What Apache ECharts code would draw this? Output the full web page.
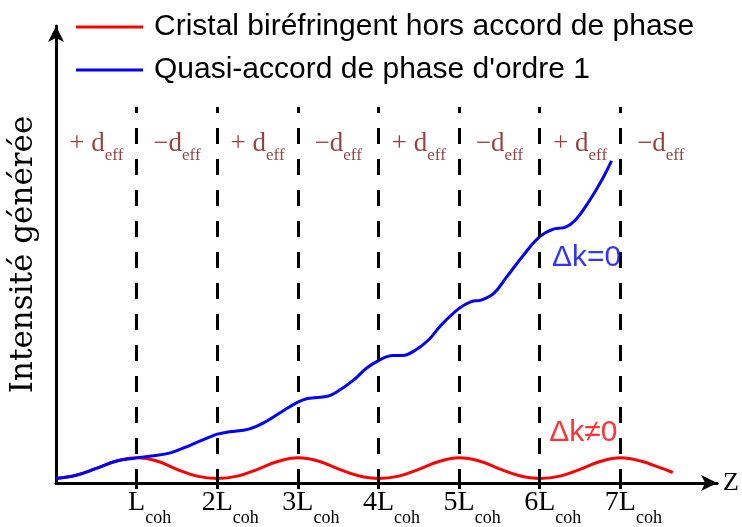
<!DOCTYPE html>
<html>
<head>
<meta charset="utf-8">
<script src="https://cdn.jsdelivr.net/npm/echarts@6.0.0/dist/echarts.min.js"></script>
<style>
  html,body{margin:0;padding:0;background:#fff;}
  #chart{width:742px;height:527px;}
</style>
</head>
<body>
<div id="chart"></div>
<script>
// positions en unites de L_coh, intensite en unites arbitraires
const zTicks = [1, 2, 3, 4, 5, 6, 7];
const tickLabels = ['L', '2L', '3L', '4L', '5L', '6L', '7L'];

// cristal birefringent hors accord de phase (dk != 0)
const redPts = [
  [0, 0.10], [0.25, 0.17], [0.5, 0.32], [0.75, 0.48], [1, 0.55],
  [1.25, 0.48], [1.5, 0.30], [1.75, 0.15], [2, 0.10],
  [2.25, 0.15], [2.5, 0.30], [2.75, 0.47], [3, 0.55],
  [3.25, 0.48], [3.5, 0.31], [3.75, 0.16], [4, 0.10],
  [4.25, 0.15], [4.5, 0.30], [4.75, 0.47], [5, 0.55],
  [5.25, 0.48], [5.5, 0.31], [5.75, 0.16], [6, 0.10],
  [6.25, 0.15], [6.5, 0.30], [6.75, 0.47], [7, 0.55],
  [7.25, 0.48], [7.5, 0.33], [7.65, 0.23]
];

// quasi-accord de phase d'ordre 1 (dk = 0)
const bluePts = [
  [0, 0.10], [0.25, 0.17], [0.5, 0.32], [0.75, 0.48], [1, 0.55],
  [1.18, 0.59], [1.42, 0.66], [1.67, 0.83], [1.91, 1.01], [2, 1.07],
  [2.15, 1.12], [2.39, 1.18], [2.60, 1.34], [2.80, 1.56], [3, 1.77],
  [3.12, 1.85], [3.37, 1.90], [3.49, 2.00], [3.69, 2.25], [3.85, 2.51], [4, 2.68],
  [4.18, 2.79], [4.30, 2.79], [4.46, 2.91], [4.62, 3.13], [4.78, 3.46], [5, 3.82],
  [5.15, 3.97], [5.27, 4.00], [5.43, 4.15], [5.59, 4.51], [5.80, 4.99], [6, 5.39],
  [6.16, 5.55], [6.32, 5.60], [6.44, 5.75], [6.61, 6.16], [6.77, 6.63], [6.89, 7.05]
];

// signe du coefficient non lineaire dans chaque domaine
const segCenters = [0.5, 1.5, 2.5, 3.5, 4.5, 5.5, 6.5, 7.5];
const segSigns = ['+ d', '\u2212d', '+ d', '\u2212d', '+ d', '\u2212d', '+ d', '\u2212d'];

const serif = 'Liberation Serif';
const sans = 'Liberation Sans';
const dRed = '#7e0f0f';

const chart = echarts.init(document.getElementById('chart'));

chart.setOption({
  animation: false,
  backgroundColor: '#fff',
  grid: { left: 53, right: 15, top: 26, bottom: 44 },
  legend: {
    data: ['Cristal biréfringent hors accord de phase', 'Quasi-accord de phase d\'ordre 1'],
    orient: 'vertical',
    left: 71,
    top: 6,
    icon: 'rect',
    itemWidth: 67,
    itemHeight: 3,
    itemGap: 11,
    textStyle: { fontFamily: sans, fontSize: 30, color: '#000', lineHeight: 32, padding: [0, 0, 0, 6] }
  },
  xAxis: {
    type: 'value',
    min: 0,
    max: 8.2,
    interval: 1,
    name: 'Z',
    nameLocation: 'end',
    nameGap: 6,
    nameTextStyle: { fontFamily: serif, fontSize: 26, color: '#000' },
    splitLine: { show: false },
    axisLine: { lineStyle: { color: '#000', width: 3 }, symbol: ['none', 'arrow'], symbolSize: [12, 16] },
    axisTick: { show: true, customValues: zTicks, length: 6, lineStyle: { color: '#000', width: 3 } },
    axisLabel: {
      customValues: zTicks,
      margin: 6,
      padding: [0, 0, 0, 26],
      formatter: v => '{m|' + tickLabels[zTicks.indexOf(v)] + '}{s|coh}',
      rich: {
        m: { fontFamily: serif, fontSize: 28, color: '#000', lineHeight: 28, verticalAlign: 'top' },
        s: { fontFamily: serif, fontSize: 18, color: '#000', lineHeight: 18, padding: [20, 0, 0, 0], verticalAlign: 'top' }
      }
    }
  },
  yAxis: {
    type: 'value',
    min: 0,
    max: 10,
    name: 'Intensité générée',
    nameLocation: 'middle',
    nameRotate: 90,
    nameGap: 17,
    nameTextStyle: { fontFamily: 'DejaVu Serif', fontSize: 31, color: '#000' },
    splitLine: { show: false },
    axisTick: { show: false },
    axisLabel: { show: false },
    axisLine: { lineStyle: { color: '#000', width: 3 }, symbol: ['none', 'arrow'], symbolSize: [12, 16] }
  },
  series: [
    {
      name: 'Cristal biréfringent hors accord de phase',
      type: 'line',
      data: redPts,
      smooth: 0.4,
      showSymbol: false,
      color: '#ff0000',
      lineStyle: { width: 3, color: '#ff0000' }
    },
    {
      name: 'Quasi-accord de phase d\'ordre 1',
      type: 'line',
      data: bluePts,
      smooth: 0.4,
      showSymbol: false,
      color: '#0000ff',
      lineStyle: { width: 3, color: '#0000ff' }
    },
    {
      // limites des domaines
      name: 'domaines',
      type: 'line',
      data: [],
      z: 5,
      markLine: {
        silent: true,
        symbol: 'none',
        label: { show: false },
        lineStyle: { color: '#000', width: 3, type: [16, 15], dashOffset: 10 },
        data: zTicks.map(v => [{ coord: [v, 8.23] }, { coord: [v, 0] }])
      }
    },
    {
      // signes +d / -d
      name: 'signes',
      type: 'scatter',
      symbolSize: 0,
      data: segCenters.map((c, i) => ({ value: [c, 7.42], sign: segSigns[i] })),
      label: {
        show: true,
        position: 'inside',
        formatter: p => '{m|' + p.data.sign + '}{s|eff}',
        rich: {
          m: { fontFamily: serif, fontSize: 27, color: dRed, lineHeight: 27, verticalAlign: 'top' },
          s: { fontFamily: serif, fontSize: 17, color: dRed, lineHeight: 17, padding: [17, 0, 0, 0], verticalAlign: 'top' }
        }
      }
    },
    {
      name: 'notes',
      type: 'scatter',
      symbolSize: 0,
      data: [
        { value: [6.58, 4.92], label: { formatter: '\u0394k=0', color: '#0000ff' } },
        { value: [6.54, 1.09], label: { formatter: '\u0394k\u22600', color: '#ff0000' } }
      ],
      label: { show: true, position: 'inside', fontFamily: sans, fontSize: 30 }
    }
  ]
});
</script>
</body>
</html>
